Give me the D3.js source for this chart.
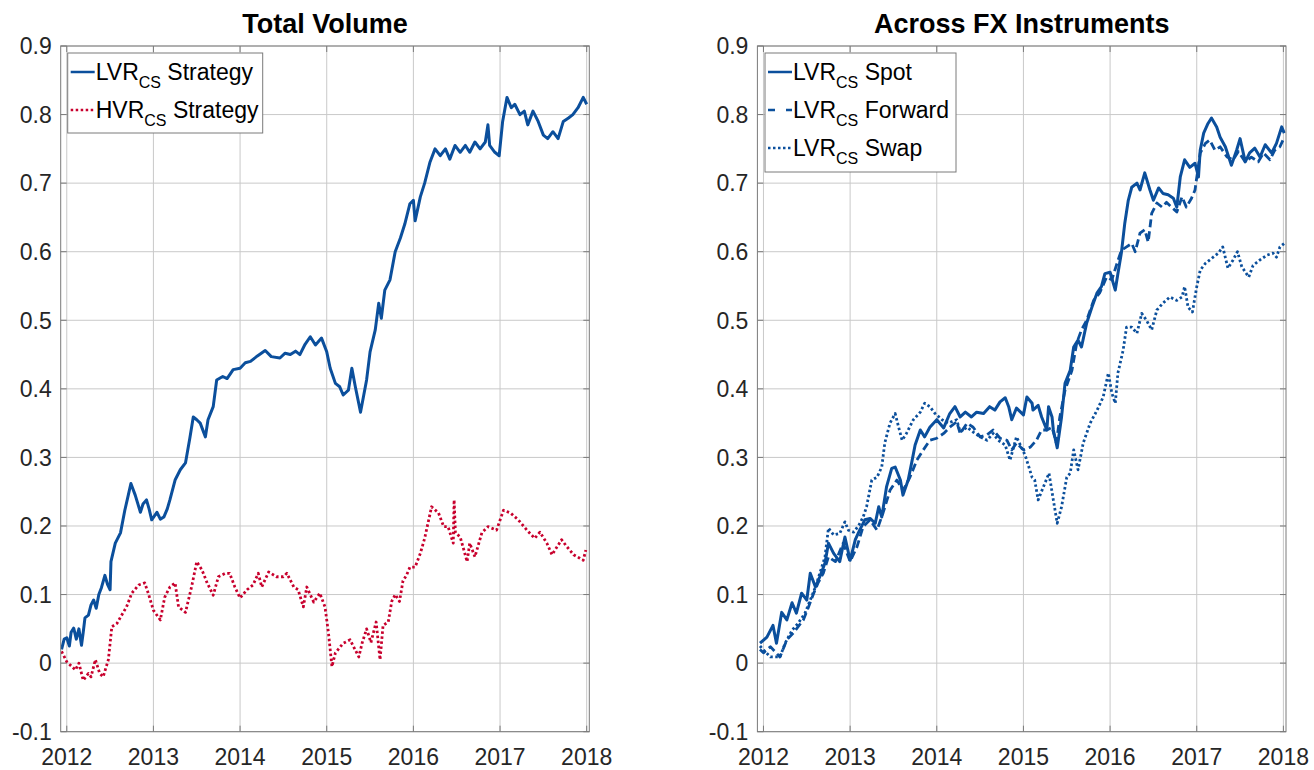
<!DOCTYPE html>
<html>
<head>
<meta charset="utf-8">
<script src="https://cdn.jsdelivr.net/npm/d3@7/dist/d3.min.js"></script>
<style>
  body { margin: 0; background: #fff; }
  svg text { font-family: "Liberation Sans", Arial, sans-serif; }
</style>
</head>
<body>
<svg id="chart" width="1314" height="770"></svg>
<script>
// ---- data: [decimal year, cumulative return] ----
const xTicks = [2012, 2013, 2014, 2015, 2016, 2017, 2018];
const yTicks = [-0.1, 0, 0.1, 0.2, 0.3, 0.4, 0.5, 0.6, 0.7, 0.8, 0.9];

const lvrTotal = [
  [2011.94,0.020],[2011.97,0.035],[2012.00,0.037],[2012.03,0.025],[2012.05,0.045],[2012.08,0.051],
  [2012.11,0.035],[2012.14,0.050],[2012.17,0.026],[2012.19,0.045],[2012.21,0.066],[2012.25,0.070],
  [2012.28,0.085],[2012.31,0.092],[2012.34,0.080],[2012.37,0.100],[2012.40,0.110],[2012.44,0.128],
  [2012.47,0.115],[2012.50,0.107],[2012.51,0.148],[2012.56,0.175],[2012.62,0.190],[2012.67,0.223],
  [2012.71,0.245],[2012.74,0.262],[2012.79,0.245],[2012.85,0.220],[2012.88,0.232],[2012.92,0.238],
  [2012.95,0.225],[2012.98,0.209],[2013.04,0.220],[2013.08,0.210],[2013.12,0.213],[2013.16,0.225],
  [2013.19,0.238],[2013.25,0.267],[2013.31,0.282],[2013.37,0.292],[2013.42,0.328],[2013.46,0.359],
  [2013.50,0.355],[2013.54,0.350],[2013.60,0.330],[2013.63,0.355],[2013.69,0.374],[2013.73,0.413],
  [2013.80,0.418],[2013.85,0.415],[2013.92,0.428],[2014.00,0.430],[2014.06,0.438],[2014.12,0.440],
  [2014.20,0.448],[2014.29,0.456],[2014.36,0.447],[2014.46,0.445],[2014.52,0.452],[2014.58,0.450],
  [2014.64,0.455],[2014.69,0.450],[2014.75,0.465],[2014.81,0.476],[2014.87,0.464],[2014.94,0.474],
  [2015.00,0.454],[2015.04,0.430],[2015.10,0.408],[2015.15,0.403],[2015.19,0.391],[2015.25,0.398],
  [2015.29,0.430],[2015.33,0.403],[2015.39,0.366],[2015.46,0.413],[2015.50,0.454],[2015.56,0.486],
  [2015.60,0.525],[2015.63,0.503],[2015.67,0.544],[2015.73,0.559],[2015.79,0.600],[2015.85,0.620],
  [2015.90,0.640],[2015.96,0.670],[2016.00,0.675],[2016.02,0.645],[2016.08,0.680],[2016.13,0.700],
  [2016.19,0.730],[2016.25,0.750],[2016.31,0.740],[2016.37,0.750],[2016.42,0.735],[2016.48,0.755],
  [2016.54,0.745],[2016.60,0.755],[2016.65,0.745],[2016.71,0.760],[2016.77,0.750],[2016.83,0.760],
  [2016.86,0.785],[2016.88,0.755],[2016.94,0.745],[2016.99,0.740],[2017.03,0.790],[2017.08,0.825],
  [2017.13,0.810],[2017.17,0.815],[2017.23,0.800],[2017.28,0.805],[2017.32,0.785],[2017.38,0.805],
  [2017.44,0.790],[2017.50,0.770],[2017.55,0.765],[2017.61,0.775],[2017.67,0.765],[2017.73,0.790],
  [2017.79,0.795],[2017.84,0.800],[2017.90,0.810],[2017.96,0.825],[2018.00,0.815]
];

const hvrTotal = [
  [2011.94,0.017],[2012.00,0.002],[2012.10,-0.010],[2012.14,0.000],[2012.19,-0.025],[2012.25,-0.015],
  [2012.28,-0.020],[2012.33,0.005],[2012.38,-0.015],[2012.42,-0.020],[2012.48,0.005],[2012.52,0.053],
  [2012.58,0.058],[2012.62,0.067],[2012.69,0.082],[2012.75,0.102],[2012.83,0.114],[2012.90,0.117],
  [2012.94,0.102],[2013.00,0.077],[2013.08,0.063],[2013.13,0.096],[2013.19,0.111],[2013.25,0.117],
  [2013.29,0.082],[2013.37,0.074],[2013.44,0.111],[2013.50,0.148],[2013.56,0.136],[2013.62,0.117],
  [2013.69,0.099],[2013.75,0.126],[2013.83,0.131],[2013.88,0.131],[2013.94,0.111],[2014.00,0.095],
  [2014.08,0.107],[2014.15,0.114],[2014.21,0.131],[2014.25,0.111],[2014.33,0.133],[2014.42,0.126],
  [2014.50,0.126],[2014.54,0.131],[2014.62,0.111],[2014.67,0.107],[2014.73,0.082],[2014.77,0.111],
  [2014.85,0.089],[2014.92,0.102],[2014.98,0.082],[2015.02,0.044],[2015.06,-0.005],[2015.10,0.015],
  [2015.19,0.029],[2015.27,0.034],[2015.37,0.009],[2015.41,0.030],[2015.46,0.050],[2015.51,0.030],
  [2015.57,0.060],[2015.615,0.005],[2015.65,0.055],[2015.71,0.060],[2015.75,0.090],[2015.79,0.100],
  [2015.84,0.090],[2015.88,0.120],[2015.92,0.128],[2015.96,0.140],[2016.02,0.140],[2016.08,0.160],
  [2016.13,0.182],[2016.21,0.228],[2016.29,0.219],[2016.35,0.199],[2016.40,0.199],[2016.46,0.175],
  [2016.47,0.238],[2016.485,0.190],[2016.54,0.184],[2016.62,0.148],[2016.65,0.175],[2016.71,0.155],
  [2016.79,0.190],[2016.86,0.199],[2016.96,0.194],[2017.04,0.223],[2017.12,0.219],[2017.21,0.209],
  [2017.31,0.194],[2017.40,0.182],[2017.46,0.191],[2017.54,0.175],[2017.60,0.158],[2017.71,0.180],
  [2017.77,0.170],[2017.85,0.158],[2017.92,0.153],[2017.96,0.150],[2017.99,0.165]
];

const lvrSpot = [
  [2011.96,0.029],[2012.04,0.038],[2012.11,0.055],[2012.15,0.029],[2012.21,0.074],[2012.27,0.063],
  [2012.33,0.088],[2012.38,0.073],[2012.44,0.102],[2012.50,0.092],[2012.54,0.131],[2012.60,0.111],
  [2012.65,0.126],[2012.71,0.146],[2012.75,0.175],[2012.81,0.160],[2012.88,0.148],[2012.94,0.184],
  [2013.00,0.150],[2013.06,0.180],[2013.11,0.194],[2013.17,0.209],[2013.23,0.211],[2013.29,0.204],
  [2013.33,0.228],[2013.365,0.213],[2013.42,0.257],[2013.48,0.284],[2013.52,0.286],[2013.58,0.267],
  [2013.61,0.245],[2013.67,0.267],[2013.71,0.292],[2013.75,0.318],[2013.81,0.340],[2013.86,0.330],
  [2013.92,0.344],[2014.00,0.355],[2014.08,0.343],[2014.15,0.364],[2014.21,0.374],[2014.27,0.359],
  [2014.33,0.366],[2014.40,0.359],[2014.46,0.366],[2014.54,0.364],[2014.61,0.374],[2014.67,0.369],
  [2014.73,0.381],[2014.79,0.387],[2014.83,0.374],[2014.865,0.355],[2014.92,0.372],[2015.00,0.362],
  [2015.04,0.388],[2015.10,0.379],[2015.11,0.369],[2015.17,0.376],[2015.21,0.359],[2015.27,0.340],
  [2015.29,0.374],[2015.33,0.359],[2015.345,0.340],[2015.39,0.314],[2015.44,0.359],[2015.48,0.408],
  [2015.54,0.427],[2015.58,0.461],[2015.63,0.471],[2015.67,0.461],[2015.73,0.496],[2015.79,0.519],
  [2015.85,0.540],[2015.90,0.549],[2015.94,0.568],[2016.00,0.570],[2016.06,0.544],[2016.09,0.568],
  [2016.13,0.598],[2016.17,0.642],[2016.21,0.675],[2016.25,0.694],[2016.31,0.700],[2016.345,0.690],
  [2016.40,0.715],[2016.46,0.690],[2016.50,0.675],[2016.56,0.693],[2016.61,0.685],[2016.67,0.683],
  [2016.73,0.678],[2016.77,0.665],[2016.81,0.709],[2016.86,0.734],[2016.92,0.723],[2016.98,0.729],
  [2017.02,0.709],[2017.04,0.748],[2017.08,0.773],[2017.13,0.787],[2017.17,0.795],[2017.23,0.782],
  [2017.27,0.767],[2017.33,0.753],[2017.40,0.726],[2017.46,0.748],[2017.50,0.765],[2017.56,0.731],
  [2017.61,0.744],[2017.67,0.751],[2017.73,0.738],[2017.79,0.756],[2017.865,0.744],[2017.92,0.758],
  [2017.98,0.782],[2018.01,0.773]
];

const lvrForward = [
  [2011.96,0.020],[2012.00,0.015],[2012.08,0.024],[2012.19,0.009],[2012.27,0.034],[2012.345,0.044],
  [2012.46,0.063],[2012.52,0.082],[2012.58,0.102],[2012.63,0.117],[2012.69,0.131],[2012.75,0.155],
  [2012.83,0.148],[2012.92,0.175],[2013.00,0.148],[2013.08,0.170],[2013.15,0.199],[2013.23,0.209],
  [2013.31,0.194],[2013.38,0.219],[2013.46,0.252],[2013.54,0.267],[2013.61,0.252],[2013.69,0.271],
  [2013.77,0.296],[2013.845,0.311],[2013.92,0.325],[2014.00,0.328],[2014.08,0.335],[2014.15,0.344],
  [2014.23,0.352],[2014.27,0.335],[2014.35,0.350],[2014.42,0.344],[2014.50,0.330],[2014.58,0.333],
  [2014.65,0.340],[2014.73,0.328],[2014.81,0.325],[2014.865,0.311],[2014.92,0.321],[2015.00,0.311],
  [2015.08,0.315],[2015.15,0.325],[2015.21,0.340],[2015.27,0.340],[2015.33,0.344],[2015.38,0.321],
  [2015.42,0.359],[2015.48,0.398],[2015.56,0.427],[2015.615,0.467],[2015.67,0.486],[2015.73,0.500],
  [2015.81,0.529],[2015.88,0.540],[2015.96,0.563],[2016.02,0.559],[2016.08,0.583],[2016.13,0.602],
  [2016.19,0.607],[2016.25,0.612],[2016.29,0.600],[2016.345,0.627],[2016.40,0.632],[2016.44,0.614],
  [2016.48,0.656],[2016.54,0.671],[2016.60,0.665],[2016.65,0.672],[2016.71,0.665],[2016.77,0.658],
  [2016.83,0.680],[2016.88,0.665],[2016.94,0.678],[2016.98,0.690],[2017.04,0.744],[2017.10,0.758],
  [2017.15,0.763],[2017.21,0.748],[2017.27,0.753],[2017.35,0.738],[2017.42,0.734],[2017.48,0.746],
  [2017.56,0.731],[2017.63,0.738],[2017.71,0.731],[2017.77,0.744],[2017.845,0.734],[2017.90,0.748],
  [2017.96,0.753],[2018.01,0.767]
];

const lvrSwap = [
  [2011.96,0.025],[2012.00,0.019],[2012.08,0.009],[2012.19,0.009],[2012.25,0.029],[2012.33,0.048],
  [2012.40,0.058],[2012.48,0.073],[2012.54,0.092],[2012.60,0.111],[2012.65,0.131],[2012.71,0.155],
  [2012.75,0.197],[2012.81,0.187],[2012.88,0.189],[2012.94,0.206],[2012.98,0.194],[2013.04,0.191],
  [2013.10,0.201],[2013.15,0.213],[2013.19,0.228],[2013.25,0.267],[2013.31,0.271],[2013.365,0.286],
  [2013.40,0.321],[2013.46,0.350],[2013.52,0.364],[2013.56,0.344],[2013.60,0.325],[2013.65,0.335],
  [2013.73,0.355],[2013.81,0.366],[2013.86,0.379],[2013.92,0.374],[2013.98,0.364],[2014.06,0.355],
  [2014.13,0.350],[2014.23,0.355],[2014.27,0.337],[2014.35,0.344],[2014.42,0.337],[2014.50,0.330],
  [2014.58,0.325],[2014.65,0.335],[2014.71,0.325],[2014.79,0.318],[2014.845,0.296],[2014.92,0.330],
  [2015.02,0.303],[2015.10,0.271],[2015.13,0.267],[2015.17,0.238],[2015.23,0.257],[2015.295,0.277],
  [2015.345,0.238],[2015.39,0.204],[2015.44,0.228],[2015.50,0.271],[2015.54,0.277],[2015.58,0.311],
  [2015.63,0.282],[2015.69,0.321],[2015.77,0.350],[2015.85,0.369],[2015.92,0.388],[2015.98,0.423],
  [2016.02,0.394],[2016.06,0.379],[2016.09,0.423],[2016.15,0.456],[2016.19,0.490],[2016.25,0.490],
  [2016.31,0.481],[2016.365,0.510],[2016.42,0.500],[2016.48,0.486],[2016.54,0.515],[2016.61,0.525],
  [2016.69,0.534],[2016.77,0.529],[2016.83,0.534],[2016.86,0.549],[2016.90,0.519],[2016.95,0.512],
  [2017.00,0.549],[2017.04,0.573],[2017.10,0.583],[2017.17,0.590],[2017.25,0.598],[2017.30,0.607],
  [2017.36,0.576],[2017.42,0.588],[2017.47,0.600],[2017.52,0.578],[2017.60,0.563],[2017.65,0.580],
  [2017.73,0.588],[2017.81,0.595],[2017.88,0.598],[2017.92,0.592],[2017.96,0.607],[2018.01,0.612]
];

// ---- styling ----
const BLUE = "#0b4f9c";
const RED = "#c8002d";
const AXIS = "#7a7a7a";
const GRID = "#c9c9c9";
const TEXT = "#262626";

const plotTop = 46, plotBottom = 731.7;
const xDomain = [2011.93, 2018.03];

const svg = d3.select("#chart");

function drawPanel(cfg) {
  const x = d3.scaleLinear().domain(xDomain).range([cfg.left, cfg.right]);
  const y = d3.scaleLinear().domain([-0.1, 0.9]).range([plotBottom, plotTop]);
  const g = svg.append("g");

  // grid
  g.selectAll(".vgrid").data(xTicks).join("line")
    .attr("x1", d => x(d)).attr("x2", d => x(d))
    .attr("y1", plotTop).attr("y2", plotBottom)
    .attr("stroke", GRID).attr("stroke-width", 1);
  g.selectAll(".hgrid").data(yTicks).join("line")
    .attr("x1", cfg.left).attr("x2", cfg.right)
    .attr("y1", d => y(d)).attr("y2", d => y(d))
    .attr("stroke", GRID).attr("stroke-width", 1);

  // clip for lines
  const clipId = "clip" + cfg.id;
  svg.append("clipPath").attr("id", clipId).append("rect")
    .attr("x", cfg.left).attr("y", plotTop)
    .attr("width", cfg.right - cfg.left).attr("height", plotBottom - plotTop);

  const line = d3.line().x(d => x(d[0])).y(d => y(d[1]));
  cfg.series.forEach(s => {
    g.append("path")
      .datum(s.data)
      .attr("clip-path", `url(#${clipId})`)
      .attr("fill", "none")
      .attr("stroke", s.color)
      .attr("stroke-width", s.width)
      .attr("stroke-dasharray", s.dash)
      .attr("stroke-linejoin", "round")
      .attr("d", line);
  });

  // axes box
  g.append("rect")
    .attr("x", cfg.left).attr("y", plotTop)
    .attr("width", cfg.right - cfg.left).attr("height", plotBottom - plotTop)
    .attr("fill", "none").attr("stroke", AXIS).attr("stroke-width", 1);

  // inward ticks on all four sides
  const tl = 6;
  yTicks.forEach(v => {
    g.append("line").attr("x1", cfg.left).attr("x2", cfg.left + tl)
      .attr("y1", y(v)).attr("y2", y(v)).attr("stroke", AXIS);
    g.append("line").attr("x1", cfg.right).attr("x2", cfg.right - tl)
      .attr("y1", y(v)).attr("y2", y(v)).attr("stroke", AXIS);
  });
  xTicks.forEach(v => {
    g.append("line").attr("x1", x(v)).attr("x2", x(v))
      .attr("y1", plotBottom).attr("y2", plotBottom - tl).attr("stroke", AXIS);
    g.append("line").attr("x1", x(v)).attr("x2", x(v))
      .attr("y1", plotTop).attr("y2", plotTop + tl).attr("stroke", AXIS);
  });

  // tick labels
  g.selectAll(".ylab").data(yTicks).join("text")
    .attr("x", cfg.left - 9)
    .attr("y", d => y(d))
    .attr("dy", "0.36em")
    .attr("text-anchor", "end")
    .attr("fill", TEXT)
    .style("font-size", "23px")
    .text(d => String(Math.round(d * 10) / 10));
  g.selectAll(".xlab").data(xTicks).join("text")
    .attr("x", d => x(d))
    .attr("y", plotBottom + 33)
    .attr("text-anchor", "middle")
    .attr("fill", TEXT)
    .style("font-size", "23px")
    .text(d => d);

  // title
  g.append("text")
    .attr("x", (cfg.left + cfg.right) / 2)
    .attr("y", 33)
    .attr("text-anchor", "middle")
    .attr("fill", "#000")
    .style("font-size", "27px")
    .style("font-weight", "bold")
    .text(cfg.title);

  // legend
  const lg = g.append("g").attr("transform", `translate(${cfg.left + cfg.legend.dx}, ${plotTop + 7})`);
  lg.append("rect")
    .attr("x", 0).attr("y", 0)
    .attr("width", cfg.legend.w).attr("height", cfg.legend.h)
    .attr("fill", "#fff").attr("stroke", AXIS).attr("stroke-width", 1);
  cfg.series.forEach((s, i) => {
    const cy = 19 + i * cfg.legend.step;
    lg.append("line")
      .attr("x1", 3).attr("x2", 27)
      .attr("y1", cy).attr("y2", cy)
      .attr("stroke", s.color).attr("stroke-width", 2.5)
      .attr("stroke-dasharray", s.legendDash || s.dash);
    const t = lg.append("text")
      .attr("x", 28).attr("y", cy + 8)
      .attr("fill", "#000")
      .style("font-size", "23px");
    t.append("tspan").text(s.name);
    t.append("tspan").attr("dy", 8).style("font-size", "16px").text("CS");
    t.append("tspan").attr("dy", -8).text("\u00a0" + s.suffix);
  });
}

drawPanel({
  id: "L", left: 60.7, right: 589.3, title: "Total Volume",
  legend: { dx: 7, w: 195, h: 80, step: 38 },
  series: [
    { name: "LVR", suffix: "Strategy", data: lvrTotal, color: BLUE, width: 3, dash: null },
    { name: "HVR", suffix: "Strategy", data: hvrTotal, color: RED, width: 2.8, dash: "2.5,2.5" }
  ]
});

drawPanel({
  id: "R", left: 757.4, right: 1286, title: "Across FX Instruments",
  legend: { dx: 7.6, w: 191, h: 119, step: 38 },
  series: [
    { name: "LVR", suffix: "Spot", data: lvrSpot, color: BLUE, width: 3, dash: null },
    { name: "LVR", suffix: "Forward", data: lvrForward, color: BLUE, width: 2.8, dash: "8,4", legendDash: "7,11" },
    { name: "LVR", suffix: "Swap", data: lvrSwap, color: BLUE, width: 2.8, dash: "2.5,2.5" }
  ]
});
</script>
</body>
</html>
